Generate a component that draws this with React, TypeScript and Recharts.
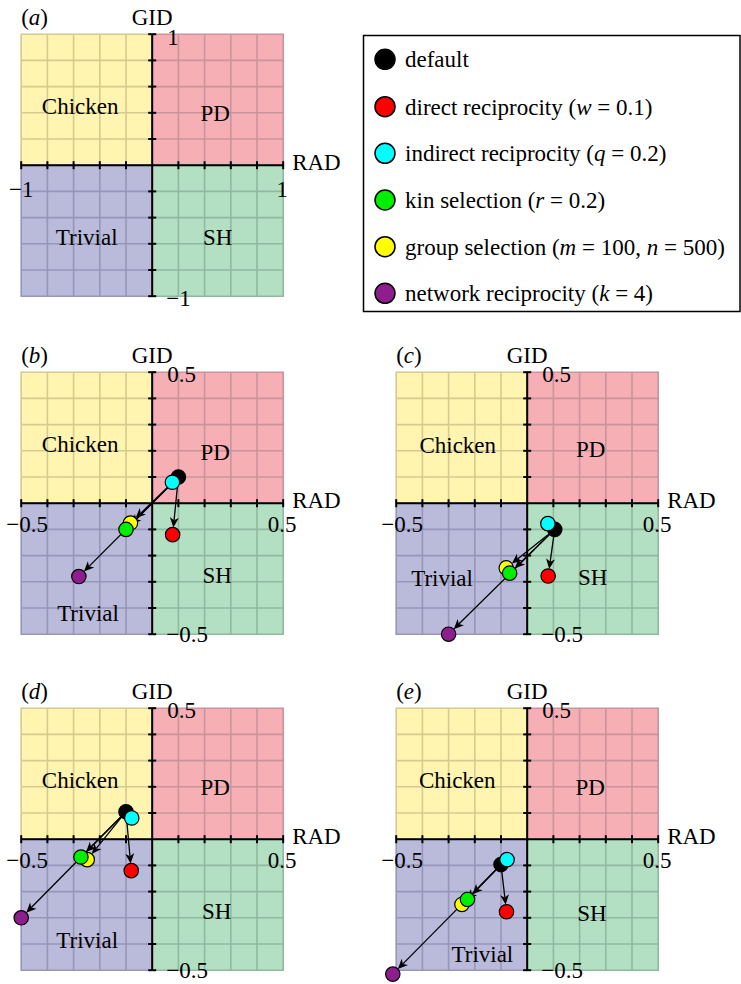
import React from 'react';
import { ScatterChart, Scatter, XAxis, YAxis, ReferenceArea, ReferenceLine, ReferenceDot } from 'recharts';

// ---------- data ----------
const seriesKeys = ['default', 'direct', 'indirect', 'kin', 'group', 'network'];
const seriesColors = ['#000000', '#FF0000', '#00FFFF', '#00EE00', '#FFFF00', '#8E1E8E'];
const drawOrder = [0, 4, 3, 1, 2, 5];

// RAD (x) and GID (y) per series, order: default, direct, indirect, kin, group, network
const panelB_RAD = [0.1, 0.078, 0.077, -0.1, -0.083, -0.28];
const panelB_GID = [0.1, -0.12, 0.08, -0.1, -0.076, -0.28];
const panelC_RAD = [0.105, 0.08, 0.079, -0.067, -0.08, -0.3];
const panelC_GID = [-0.1, -0.278, -0.078, -0.267, -0.247, -0.5];
const panelD_RAD = [-0.1, -0.08, -0.078, -0.272, -0.248, -0.5];
const panelD_GID = [0.105, -0.12, 0.081, -0.068, -0.078, -0.3];
const panelE_RAD = [-0.1, -0.079, -0.077, -0.228, -0.249, -0.513];
const panelE_GID = [-0.097, -0.277, -0.078, -0.23, -0.249, -0.515];

const gameNames = ['Chicken', 'PD', 'SH', 'Trivial'];
const quadX = [[-1, 0], [0, 1], [0, 1], [-1, 0]];
const quadY = [[0, 1], [0, 1], [-1, 0], [-1, 0]];
const quadFill = ['#FFF5B1', '#F5AFB5', '#B3DFC3', '#BABADB'];
const quadLine = ['#D6CA8F', '#C9949B', '#8FB9A0', '#9696B9'];

// game label positions (x, y) per panel
const labelsA_X = [-0.55, 0.48, 0.5, -0.5];
const labelsA_Y = [0.45, 0.4, -0.55, -0.55];
const labelsB_X = [-0.275, 0.24, 0.248, -0.245];
const labelsB_Y = [0.225, 0.195, -0.275, -0.42];
const labelsC_X = [-0.265, 0.242, 0.25, -0.325];
const labelsC_Y = [0.22, 0.208, -0.282, -0.288];
const labelsD_X = [-0.275, 0.24, 0.246, -0.248];
const labelsD_Y = [0.227, 0.2, -0.275, -0.385];
const labelsE_X = [-0.267, 0.24, 0.247, -0.171];
const labelsE_Y = [0.227, 0.2, -0.282, -0.438];

const ticksA = [-1, -0.8, -0.6, -0.4, -0.2, 0, 0.2, 0.4, 0.6, 0.8, 1];
const ticksB = [-0.5, -0.4, -0.3, -0.2, -0.1, 0, 0.1, 0.2, 0.3, 0.4, 0.5];
const tickLabelsA = ['\u22121', '1'];
const tickLabelsB = ['\u22120.5', '0.5'];

const legendMain = ['default', 'direct reciprocity (', 'indirect reciprocity (', 'kin selection (', 'group selection (', 'network reciprocity ('];
const legendParams = [
  [],
  [['w', ' = 0.1']],
  [['q', ' = 0.2']],
  [['r', ' = 0.2']],
  [['m', ' = 100, '], ['n', ' = 500']],
  [['k', ' = 4']],
];

// ---------- layout ----------
const FONT = '"Liberation Serif", "Times New Roman", Times, serif';
const FS = 23;
const PLOT = 314.4;
const HALF = 131;
const M = { top: 12, right: 48, bottom: 25, left: 12 };
const R = 7.2;

const textShape = (content: any, dx: number, dy: number, anchor: string) => (p: any) => (
  <text x={p.cx + dx} y={p.cy + dy} dy="0.34em" textAnchor={anchor} fontFamily={FONT} fontSize={FS} fill="#000">
    {content}
  </text>
);

const arrowShape = (p: any) => {
  const { x1, y1, x2, y2 } = p;
  const dx = x2 - x1;
  const dy = y2 - y1;
  const len = Math.hypot(dx, dy);
  const hl = 10;
  const hw = 4.5;
  if (!isFinite(len) || len - R < hl + 2) return <g />;
  const ux = dx / len;
  const uy = dy / len;
  const nx = -uy;
  const ny = ux;
  const tx = x2 - ux * R;
  const ty = y2 - uy * R;
  const bx = tx - ux * hl;
  const by = ty - uy * hl;
  const kx = tx - ux * hl * 0.72;
  const ky = ty - uy * hl * 0.72;
  return (
    <g>
      <line x1={x1} y1={y1} x2={kx} y2={ky} stroke="#000" strokeWidth={1.3} />
      <path
        d={`M${tx},${ty} L${bx + nx * hw},${by + ny * hw} L${kx},${ky} L${bx - nx * hw},${by - ny * hw} Z`}
        fill="#000"
      />
    </g>
  );
};

const xTickShape = (p: any) => <line x1={p.cx} y1={p.cy - 4} x2={p.cx} y2={p.cy + 4} stroke="#000" strokeWidth={2} />;
const yTickShape = (p: any) => <line x1={p.cx - 4} y1={p.cy} x2={p.cx + 4} y2={p.cy} stroke="#000" strokeWidth={2} />;

type PanelProps = {
  cx: number;
  cy: number;
  max: number;
  letter: string;
  ticks: number[];
  tickLabels: string[];
  rad: number[];
  gid: number[];
  labX: number[];
  labY: number[];
  xLabDx: number;
  xLabDy: number;
  yTopDy: number;
  yBotDy: number;
};

function Panel(props: PanelProps) {
  const { cx, cy, max, letter, ticks, tickLabels, rad, gid, labX, labY, xLabDx, xLabDy, yTopDy, yBotDy } = props;
  const unitPx = HALF / max;
  const dom = PLOT / 2 / unitPx;
  const left = cx - PLOT / 2 - M.left;
  const top = cy - PLOT / 2 - M.top;
  const width = PLOT + M.left + M.right;
  const height = PLOT + M.top + M.bottom;
  const eps = 1e-6;

  const gridLines: any[] = [];
  quadX.forEach((xr, q) => {
    const x0 = xr[0] * max;
    const x1 = xr[1] * max;
    const y0 = quadY[q][0] * max;
    const y1 = quadY[q][1] * max;
    ticks.forEach((t) => {
      if (t > x0 + eps && t < x1 - eps) {
        gridLines.push(
          <ReferenceLine key={`v${q}-${t}`} segment={[{ x: t, y: y0 }, { x: t, y: y1 }]} stroke={quadLine[q]} strokeWidth={1.6} ifOverflow="visible" />
        );
      }
      if (t > y0 + eps && t < y1 - eps) {
        gridLines.push(
          <ReferenceLine key={`h${q}-${t}`} segment={[{ x: x0, y: t }, { x: x1, y: t }]} stroke={quadLine[q]} strokeWidth={1.6} ifOverflow="visible" />
        );
      }
    });
  });

  return (
    <div style={{ position: 'absolute', left, top, width, height }}>
      <ScatterChart width={width} height={height} margin={M} style={{ overflow: 'visible' }}>
        <XAxis type="number" dataKey="x" domain={[-dom, dom]} allowDataOverflow hide />
        <YAxis type="number" dataKey="y" domain={[-dom, dom]} allowDataOverflow hide />
        {gameNames.map((g, q) => (
          <ReferenceArea
            key={`area-${g}`}
            x1={quadX[q][0] * max}
            x2={quadX[q][1] * max}
            y1={quadY[q][0] * max}
            y2={quadY[q][1] * max}
            fill={quadFill[q]}
            fillOpacity={1}
            stroke={quadLine[q]}
            strokeWidth={1.6}
            ifOverflow="visible"
          />
        ))}
        {gridLines}
        <ReferenceLine segment={[{ x: -max, y: 0 }, { x: max, y: 0 }]} stroke="#000" strokeWidth={2} ifOverflow="visible" />
        <ReferenceLine segment={[{ x: 0, y: -max }, { x: 0, y: max }]} stroke="#000" strokeWidth={2} ifOverflow="visible" />
        {rad.length > 0 &&
          seriesKeys.map((k, i) =>
            i === 0 ? null : (
              <ReferenceLine
                key={`arrow-${k}`}
                segment={[{ x: rad[0], y: gid[0] }, { x: rad[i], y: gid[i] }]}
                shape={arrowShape}
                ifOverflow="visible"
              />
            )
          )}
        {ticks.filter((t) => t !== 0).map((t) => (
          <ReferenceDot key={`xt${t}`} x={t} y={0} r={0} shape={xTickShape} ifOverflow="visible" />
        ))}
        {ticks.filter((t) => t !== 0).map((t) => (
          <ReferenceDot key={`yt${t}`} x={0} y={t} r={0} shape={yTickShape} ifOverflow="visible" />
        ))}
        {rad.length > 0 &&
          drawOrder.map((i) => (
            <Scatter
              key={`s-${seriesKeys[i]}`}
              name={seriesKeys[i]}
              data={[{ x: rad[i], y: gid[i] }]}
              isAnimationActive={false}
              shape={(p: any) => <circle cx={p.cx} cy={p.cy} r={R} fill={seriesColors[i]} stroke="#000" strokeWidth={1.2} />}
            />
          ))}
        {gameNames.map((g, q) => (
          <ReferenceDot key={`lab-${g}`} x={labX[q]} y={labY[q]} r={0} shape={textShape(g, 0, 0, 'middle')} ifOverflow="visible" />
        ))}
        <ReferenceDot x={-max} y={0} r={0} shape={textShape(tickLabels[0], xLabDx, xLabDy, 'middle')} ifOverflow="visible" />
        <ReferenceDot x={max} y={0} r={0} shape={textShape(tickLabels[1], -1, xLabDy, 'middle')} ifOverflow="visible" />
        <ReferenceDot x={0} y={max} r={0} shape={textShape(tickLabels[1], 15, yTopDy, 'start')} ifOverflow="visible" />
        <ReferenceDot x={0} y={-max} r={0} shape={textShape(tickLabels[0], 14, yBotDy, 'start')} ifOverflow="visible" />
        <ReferenceDot x={0} y={max} r={0} shape={textShape('GID', 0, -17, 'middle')} ifOverflow="visible" />
        <ReferenceDot x={max} y={0} r={0} shape={textShape('RAD', 9, -3, 'start')} ifOverflow="visible" />
        <ReferenceDot
          x={-max}
          y={max}
          r={0}
          shape={textShape(
            <>
              (<tspan fontStyle="italic">{letter}</tspan>)
            </>,
            0,
            -17,
            'start'
          )}
          ifOverflow="visible"
        />
      </ScatterChart>
    </div>
  );
}

function LegendBox() {
  const rowY = [59.3, 106.7, 153.3, 200, 246.7, 293.3];
  return (
    <svg style={{ position: 'absolute', left: 0, top: 0, overflow: 'visible' }} width={741} height={320}>
      <rect x={363.5} y={35.5} width={376.5} height={276} fill="#fff" stroke="#000" strokeWidth={1.5} />
      {seriesKeys.map((k, i) => (
        <g key={`leg-${k}`}>
          <circle cx={385} cy={rowY[i]} r={10} fill={seriesColors[i]} stroke="#000" strokeWidth={1.5} />
          <text x={405} y={rowY[i]} dy="0.34em" fontFamily={FONT} fontSize={FS} fill="#000">
            {legendMain[i]}
            {legendParams[i].map((pp, j) => (
              <React.Fragment key={j}>
                <tspan fontStyle="italic">{pp[0]}</tspan>
                {pp[1]}
              </React.Fragment>
            ))}
            {legendParams[i].length > 0 ? ')' : ''}
          </text>
        </g>
      ))}
    </svg>
  );
}

export default function App() {
  return (
    <div style={{ position: 'absolute', left: 0, top: 0, width: 741, height: 984, background: '#fff', overflow: 'hidden', fontFamily: FONT }}>
      <Panel cx={152} cy={165.5} max={1} letter="a" ticks={ticksA} tickLabels={tickLabelsA} rad={[]} gid={[]} labX={labelsA_X} labY={labelsA_Y} xLabDx={0} xLabDy={23.5} yTopDy={3} yBotDy={2} />
      <Panel cx={151.7} cy={502.8} max={0.5} letter="b" ticks={ticksB} tickLabels={tickLabelsB} rad={panelB_RAD} gid={panelB_GID} labX={labelsB_X} labY={labelsB_Y} xLabDx={6} xLabDy={21} yTopDy={1.5} yBotDy={-0.5} />
      <Panel cx={526.7} cy={502.8} max={0.5} letter="c" ticks={ticksB} tickLabels={tickLabelsB} rad={panelC_RAD} gid={panelC_GID} labX={labelsC_X} labY={labelsC_Y} xLabDx={6} xLabDy={21} yTopDy={1.5} yBotDy={-0.5} />
      <Panel cx={152.3} cy={839.5} max={0.5} letter="d" ticks={ticksB} tickLabels={tickLabelsB} rad={panelD_RAD} gid={panelD_GID} labX={labelsD_X} labY={labelsD_Y} xLabDx={6} xLabDy={21} yTopDy={1.5} yBotDy={-0.5} />
      <Panel cx={527.5} cy={839.5} max={0.5} letter="e" ticks={ticksB} tickLabels={tickLabelsB} rad={panelE_RAD} gid={panelE_GID} labX={labelsE_X} labY={labelsE_Y} xLabDx={6} xLabDy={21} yTopDy={1.5} yBotDy={-0.5} />
      <LegendBox />
    </div>
  );
}
